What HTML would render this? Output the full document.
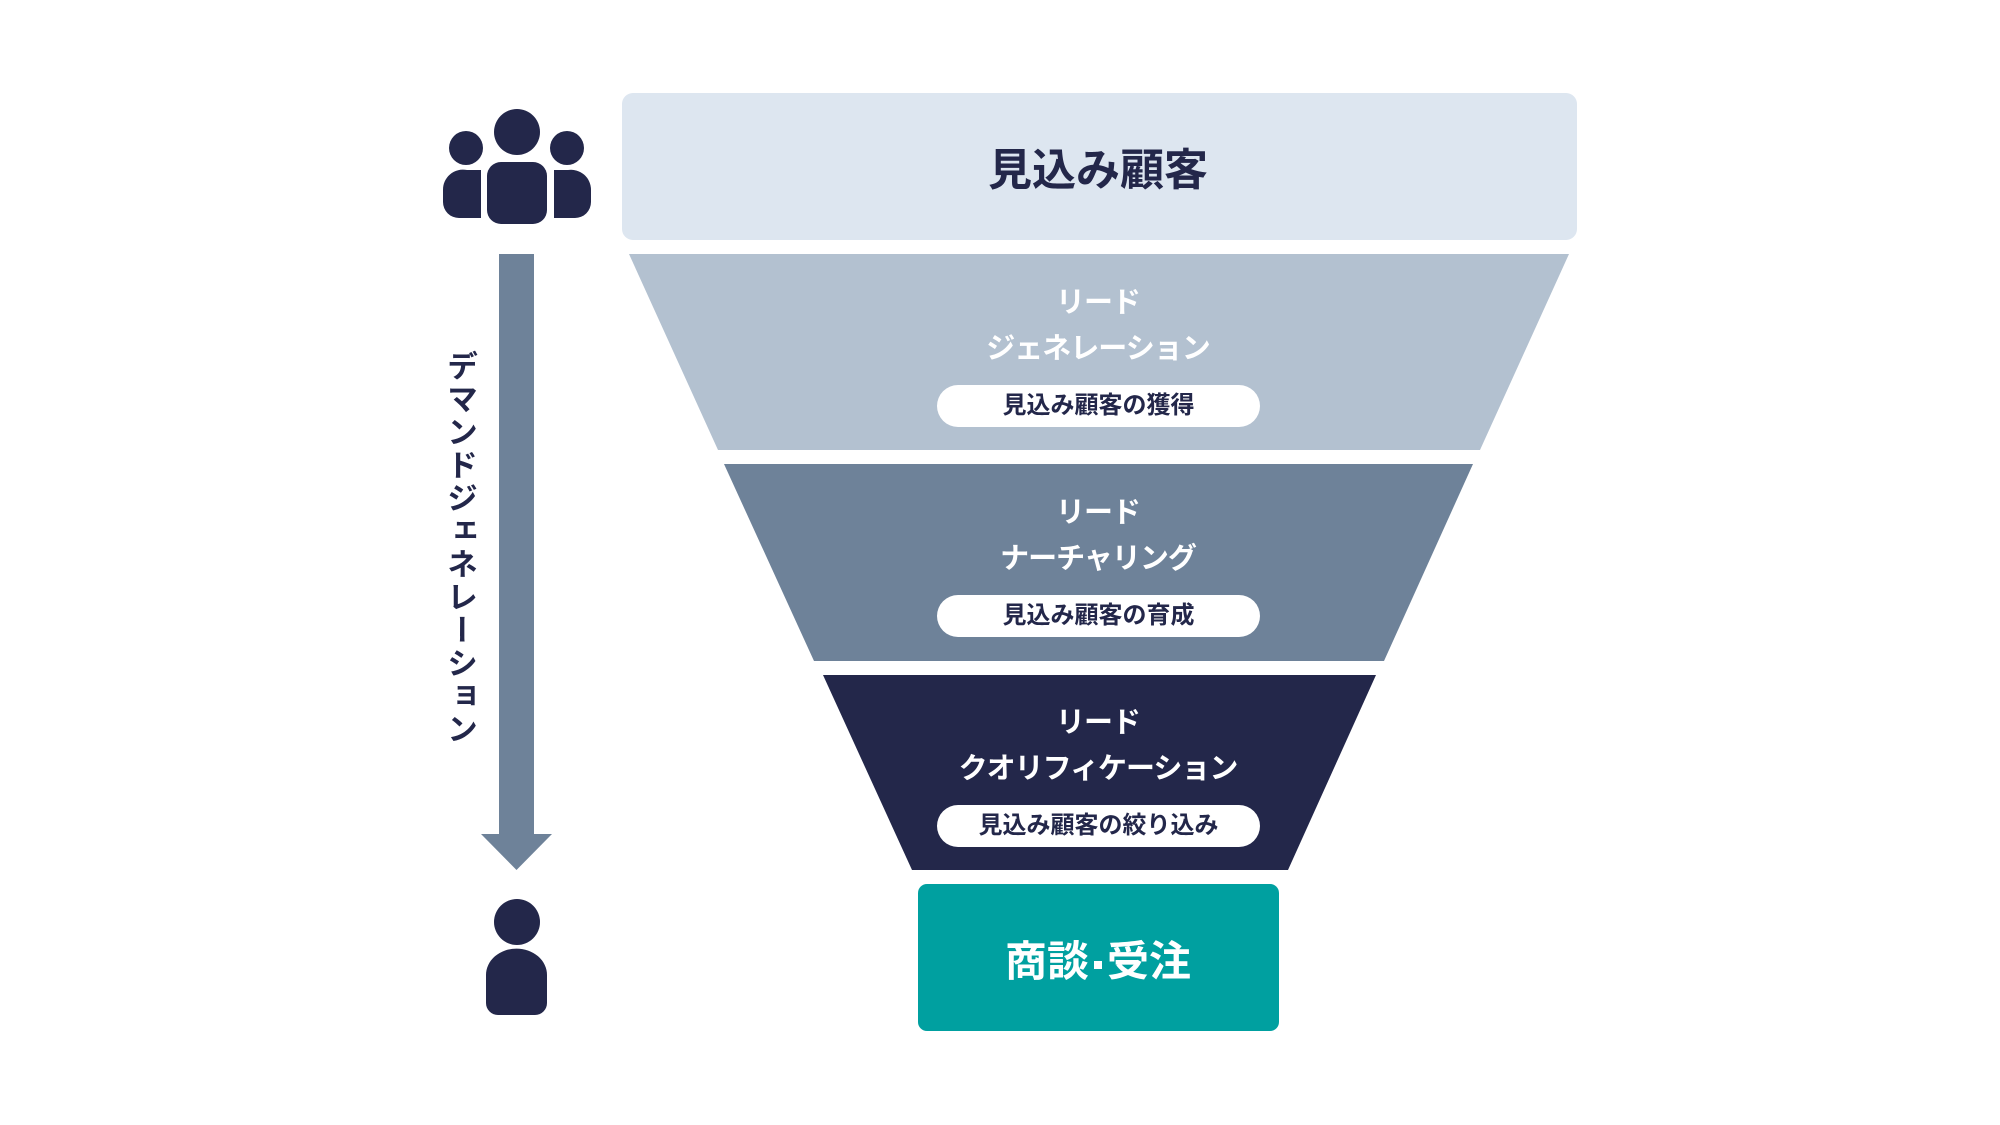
<!DOCTYPE html>
<html><head><meta charset="utf-8"><style>
body{margin:0;width:2000px;height:1125px;background:#fff;position:relative;overflow:hidden;font-family:"Liberation Sans","Noto Sans CJK JP",sans-serif;font-weight:bold}
.t{position:absolute;left:0;width:2196px;text-align:center;color:#fff}
.l{font-size:29px;line-height:46px;letter-spacing:-1px}
.pill{position:absolute;left:937px;width:323px;height:42px;border-radius:21px;background:#fff;color:#23274a;font-size:24px;text-align:center;line-height:42px}
</style></head><body>
<svg width="2000" height="1125" style="position:absolute;left:0;top:0">
<rect x="622" y="93" width="955" height="147" rx="11" fill="#dde6f0"/>
<polygon points="629,254 1569,254 1480,450 718,450" fill="#b3c1d0"/>
<polygon points="724,464 1473,464 1384,661 814,661" fill="#6e8299"/>
<polygon points="823,675 1376,675 1288,870 912,870" fill="#23274a"/>
<rect x="918" y="884" width="361" height="147" rx="9" fill="#00a0a0"/>
<rect x="499" y="254" width="35" height="582" fill="#6e8299"/>
<polygon points="481,834 552,834 516.5,870" fill="#6e8299"/>
<g fill="#23274a">
<circle cx="517" cy="132" r="23"/>
<rect x="487" y="162" width="60" height="62" rx="14"/>
<path d="M566,218 h-12 v-48 h14 a20,20 0 0 1 23,20 v12 a16,16 0 0 1 -16,16 z"/>
<path d="M468,218 h13 v-48 h-14 a20,20 0 0 0 -24,20 v12 a16,16 0 0 0 16,16 z"/>
<circle cx="466" cy="148" r="17"/>
<circle cx="567" cy="148" r="17"/>
<circle cx="517" cy="922" r="23"/>
<path d="M486,975 a30,26 0 0 1 61,0 v28 a12,12 0 0 1 -12,12 h-37 a12,12 0 0 1 -12,-12 z"/>
</g>
</svg>
<div class="t" style="top:134px;font-size:44px;color:#23274a">見込み顧客</div>
<div class="t l" style="top:280px">リード<br>ジェネレーション</div>
<div class="pill" style="top:385px">見込み顧客の獲得</div>
<div class="t l" style="top:490px">リード<br>ナーチャリング</div>
<div class="pill" style="top:595px">見込み顧客の育成</div>
<div class="t l" style="top:700px">リード<br>クオリフィケーション</div>
<div class="pill" style="top:805px">見込み顧客の絞り込み</div>
<div class="t" style="top:928px;font-size:42px">商談<span style="display:inline-block;width:8px;height:8px;background:#fff;margin:0 5px;vertical-align:middle"></span>受注</div>
<div style="position:absolute;left:437px;top:350px;writing-mode:vertical-rl;font-size:31px;color:#23274a;letter-spacing:2px">デマンドジェネレーション</div>
</body></html>
